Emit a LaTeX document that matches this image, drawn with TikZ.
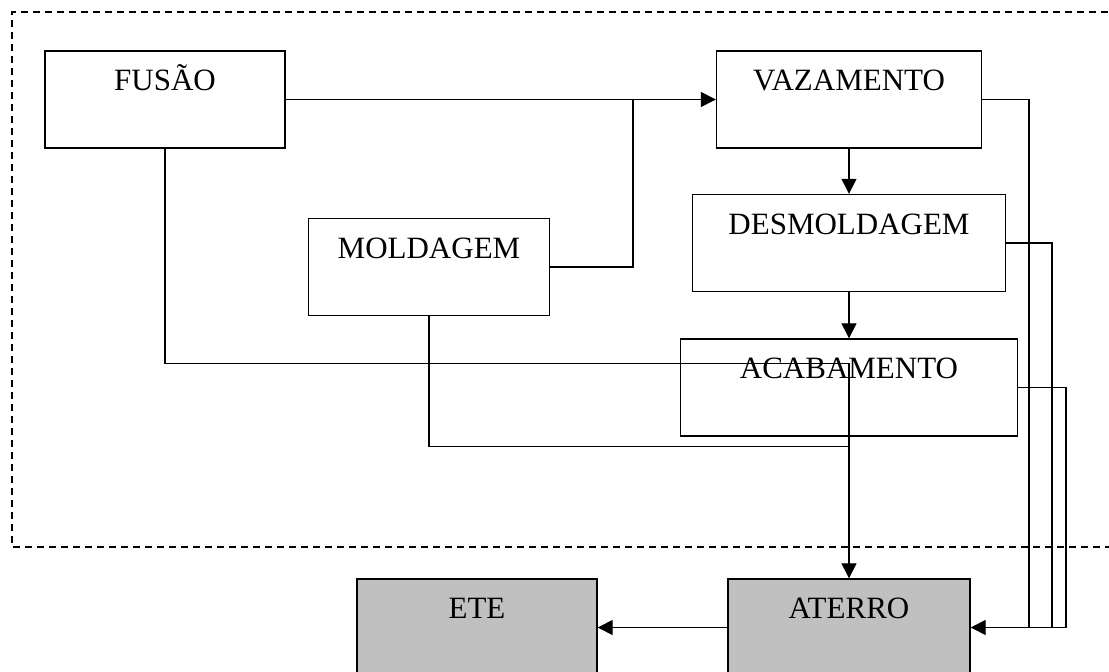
\documentclass[tikz,border=0pt]{standalone}
\usepackage{fontspec}
\setmainfont{Liberation Serif}
\usetikzlibrary{arrows.meta, positioning}
\definecolor{silver}{RGB}{192,192,192}
\begin{document}
\begin{tikzpicture}[x=0.5pt, y=-0.5pt,
    proc/.style={draw, line width=0.7pt, inner xsep=0pt, inner ysep=0pt,
        text height=20pt, text depth=28.5pt, font=\fontsize{15.5}{18}\selectfont},
    dest/.style={proc, fill=silver},
    flow/.style={line width=0.7pt, -{Triangle[length=7.5pt, width=7.5pt]}},
    link/.style={line width=0.7pt}]
    \useasboundingbox (0,0) rectangle (1109,672);
    \clip (0,0) rectangle (1109,672);

    % limite da fundicao
    \draw[line width=0.6pt, dash pattern=on 3.5pt off 2.5pt]
        (1120,12) -- (12,12) -- (12,547) -- (1120,547);

    \node[proc, minimum width=120pt] (fusao) at (165,99.5) {FUSÃO};
    \node[proc, minimum width=132.5pt] (vaz) at (849,99.5) {VAZAMENTO};
    \node[proc, minimum width=156.5pt] (desm) at (849,243) {DESMOLDAGEM};
    \node[proc, minimum width=168.5pt] (acab) at (849,387.5) {ACABAMENTO};
    \node[proc, minimum width=120.5pt] (molda) at (429,267) {MOLDAGEM};
    \node[dest, minimum width=121pt] (aterro) at (849,627.5) {ATERRO};
    \node[dest, minimum width=120pt] (ete) at (477,627.5) {ETE};

    \coordinate (m1) at (633,99.5);
    \coordinate (j1) at (849,363.5);
    \coordinate (j2) at (849,446.5);
    \coordinate (r1) at (1029,627.5);
    \coordinate (r2) at (1052,627.5);
    \coordinate (r3) at (1066,627.5);

    \draw[flow] (fusao.east) -- (vaz.west);
    \draw[link] (molda.east) -| (m1);
    \draw[flow] (vaz.south) -- (desm.north);
    \draw[flow] (desm.south) -- (acab.north);
    \draw[link] (fusao.south) |- (j1);
    \draw[link] (molda.south) |- (j2);
    \draw[flow] (j1) -- (aterro.north);
    \draw[link] (vaz.east) -| (r1);
    \draw[link] (desm.east) -| (r2);
    \draw[flow] (acab.east) -| (r3) -- (aterro.east);
    \draw[flow] (aterro.west) -- (ete.east);
\end{tikzpicture}
\end{document}
